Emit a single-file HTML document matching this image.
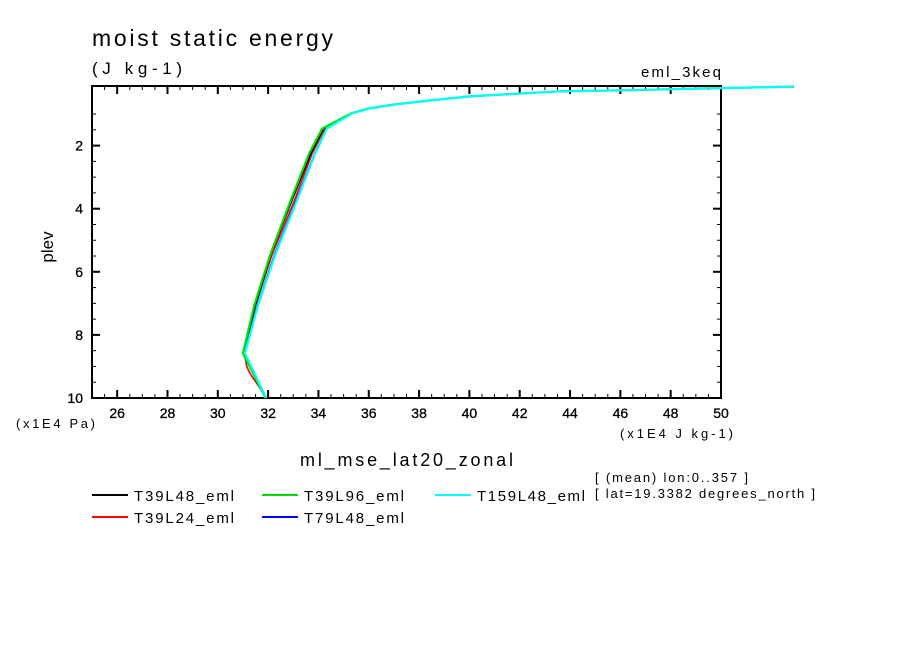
<!DOCTYPE html>
<html><head><meta charset="utf-8"><style>
body{margin:0;background:#fff;}
svg text{font-family:"Liberation Sans",sans-serif;fill:#000;}
</style></head><body>
<svg width="904" height="654" viewBox="0 0 904 654" xmlns="http://www.w3.org/2000/svg">
<rect width="904" height="654" fill="#fff"/>
<text x="92" y="46" font-size="23" textLength="241" lengthAdjust="spacing">moist static energy</text>
<text x="92" y="74" font-size="17" textLength="90" lengthAdjust="spacing">(J kg-1)</text>
<text x="641" y="77" font-size="15" textLength="80" lengthAdjust="spacing">eml_3keq</text>
<g id="axes"></g>
<g id="series"></g>
<text x="53" y="247" font-size="17" transform="rotate(-90 53 247)" text-anchor="middle">plev</text>
<text x="16" y="428" font-size="13" textLength="79" lengthAdjust="spacing">(x1E4 Pa)</text>
<text x="620" y="438" font-size="13" textLength="113" lengthAdjust="spacing">(x1E4 J kg-1)</text>
<text x="300" y="466" font-size="18" textLength="213" lengthAdjust="spacing">ml_mse_lat20_zonal</text>
<text x="595" y="482" font-size="13" textLength="153" lengthAdjust="spacing">[ (mean) lon:0..357 ]</text>
<text x="595" y="498" font-size="13" textLength="220" lengthAdjust="spacing">[ lat=19.3382 degrees_north ]</text>
<g id="legend"></g>
</svg>
<script>
const plev=[10,8.58,7.06,5.47,3.73,2.25,1.46,0.98,0.82,0.70,0.57,0.44,0.35,0.28,0.25,0.19,0.13];
const seriesNames=["T39L48_eml","T39L24_eml","T39L96_eml","T79L48_eml","T159L48_eml"];
const seriesColors=["#000000","#ff0000","#00dd00","#0000ff","#00ffff"];
const sT39L48=[31.9,31.0,31.5,32.1,32.95,33.7,34.2,35.3,36.0,37.0,38.4,40.0,42.0,43.6,46.0,49.2,52.9];
const sT39L24=[31.95,31.05,31.5,32.15,33.05,33.75,34.25,35.3,36.0,37.0,38.4,40.0,42.0,43.6,46.0,49.2,52.9];
const sT39L96=[31.9,31.0,31.45,32.08,32.9,33.63,34.15,35.3,36.0,37.0,38.4,40.0,42.0,43.6,46.0,49.2,52.9];
const sT79L48=[31.9,31.05,31.58,32.25,33.12,33.85,34.32,35.3,36.0,37.0,38.4,40.0,42.0,43.6,46.0,49.2,52.9];
const sT159L48=[31.92,31.08,31.6,32.28,33.15,33.87,34.34,35.34,36.05,37.05,38.44,40.03,42.02,43.61,46.0,49.17,52.87];
const red24Extra={p:[9.25,9.0],v:[31.3,31.15]};
const xTicks=[26,28,30,32,34,36,38,40,42,44,46,48,50];
const yTicks=[2,4,6,8,10];
const NS="http://www.w3.org/2000/svg";
const X0=92,X1=721,Y0=86,Y1=398;
const xs=v=>X0+(v-25)*(X1-X0)/25;
const ys=p=>398-(10-p)*31.55;
function mk(t,a,parent){const e=document.createElementNS(NS,t);for(const k in a)e.setAttribute(k,a[k]);parent.appendChild(e);return e;}
const axes=document.getElementById('axes');
const frame=mk('rect',{x:X0,y:Y0,width:X1-X0,height:Y1-Y0,fill:'none',stroke:'#000','stroke-width':2},axes);


for(let v=25.5;v<50;v+=0.5){
  const major=xTicks.includes(v);const x=xs(v);const L=major?8:4;
  mk('line',{x1:x,y1:Y1,x2:x,y2:Y1-L,stroke:'#000','stroke-width':major?2:1},axes);
  mk('line',{x1:x,y1:Y0,x2:x,y2:Y0+L,stroke:'#000','stroke-width':major?2:1},axes);
}
xTicks.forEach(v=>{const t=mk('text',{x:xs(v),y:418,'font-size':14,'text-anchor':'middle','stroke':'#000','stroke-width':0.3},axes);t.textContent=v;

});
for(let p=1;p<=9.5;p+=0.5){
  const major=yTicks.includes(p);const y=ys(p);const L=major?8:4;
  if(y<=Y0+1)continue;
  mk('line',{x1:X0,y1:y,x2:X0+L,y2:y,stroke:'#000','stroke-width':major?2:1},axes);
  mk('line',{x1:X1,y1:y,x2:X1-L,y2:y,stroke:'#000','stroke-width':major?2:1},axes);
}
yTicks.forEach(p=>{const t=mk('text',{x:83,y:ys(p)+5,'font-size':14,'text-anchor':'end','stroke':'#000','stroke-width':0.3},axes);t.textContent=p;

});
const g=document.getElementById('series');
const data=[sT39L48,sT39L24,sT39L96,sT79L48,sT159L48];
const drawOrder=[1,0,3,2,4];
drawOrder.forEach(i=>{
  let pts=plev.map((p,k)=>[xs(data[i][k]),ys(p)]);
  if(i===1){pts=[pts[0],[xs(red24Extra.v[0]),ys(red24Extra.p[0])],[xs(red24Extra.v[1]),ys(red24Extra.p[1])]].concat(pts.slice(1));}
  const pl=mk('polyline',{points:pts.map(q=>q.join(',')).join(' '),fill:'none',stroke:seriesColors[i],'stroke-width':i===2||i===4?2.2:1.6},g);
  
  
});
const lg=document.getElementById('legend');
const legPos=[[92,495],[92,517],[262,495],[262,517],[435,495]];
const legLen=[100,100,100,100,108];
seriesNames.forEach((n,i)=>{
  const [x,y]=legPos[i];
  const l=mk('line',{x1:x,y1:y,x2:x+36,y2:y,stroke:seriesColors[i],'stroke-width':2},lg);
  
  
  const t=mk('text',{x:x+42,y:y+6,'font-size':15,textLength:legLen[i],lengthAdjust:'spacing'},lg);t.textContent=n;
  
  
});
</script>
</body></html>
